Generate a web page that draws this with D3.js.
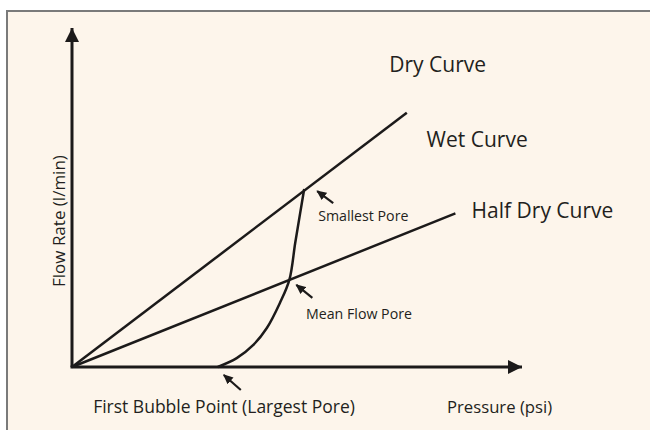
<!DOCTYPE html>
<html><head><meta charset="utf-8">
<script src="https://cdn.jsdelivr.net/npm/d3@7"></script>
<style>html,body{margin:0;padding:0;background:#fff;}svg{display:block;}</style>
</head><body>
<script>
// Data (arbitrary units: pressure 0..10, flow 0..10)
const dryCurve = [[0, 0], [7.44, 7.5]];
const halfDryCurve = [[0, 0], [8.52, 4.53]];
const wetPressure = [3.24, 3.66, 4.03, 4.33, 4.62, 4.83, 4.96, 5.07, 5.16];
const wetFlow =     [0,    0.26, 0.65, 1.15, 1.89, 2.57, 3.66, 4.54, 5.25];
const curveLabels = [
  {text: "Dry Curve", x: 7.05, y: 8.7},
  {text: "Wet Curve", x: 7.88, y: 6.5},
  {text: "Half Dry Curve", x: 8.88, y: 4.4}
];
const pointNotes = [
  {text: "Smallest Pore", px: 5.16, py: 5.25, lx: 5.47, ly: 4.3},
  {text: "Mean Flow Pore", px: 4.83, py: 2.57, lx: 5.2, ly: 1.43},
  {text: "First Bubble Point (Largest Pore)", px: 3.24, py: 0, lx: 0.47, ly: -1.35}
];
// arrow offsets from the pointed data point: head (hx,hy), tail (tx,ty) in px
const noteArrows = [
  {hx: 13, hy: 2, tx: 29, ty: 14},
  {hx: 7, hy: 5, tx: 23, ty: 18},
  {hx: 6, hy: 8, tx: 23, ty: 23}
];
const xAxisTitle = "Pressure (psi)";
const yAxisTitle = "Flow Rate (l/min)";

const W = 650, H = 430;
const svg = d3.select("body").append("svg").attr("width", W).attr("height", H);
const ink = "#1c1a1a", textCol = "#231f20";
const font = "'Open Sans', Lato, sans-serif";

// panel
svg.append("rect").attr("x", 7).attr("y", 11).attr("width", W).attr("height", H)
  .attr("fill", "#fdf5eb").attr("stroke", "#7a7a7a").attr("stroke-width", 2);

const x = d3.scaleLinear().domain([0, 10]).range([72, 522]);
const y = d3.scaleLinear().domain([0, 10]).range([367, 28]);

const defs = svg.append("defs");
defs.append("marker").attr("id", "bigArrow").attr("viewBox", "0 0 10 10")
  .attr("refX", 10).attr("refY", 5).attr("markerWidth", 14).attr("markerHeight", 14)
  .attr("markerUnits", "userSpaceOnUse").attr("orient", "auto")
  .append("path").attr("d", "M0,0 L10,5 L0,10 Z").attr("fill", ink);
defs.append("marker").attr("id", "smallArrow").attr("viewBox", "0 0 10 10")
  .attr("refX", 9).attr("refY", 5).attr("markerWidth", 10).attr("markerHeight", 10)
  .attr("markerUnits", "userSpaceOnUse").attr("orient", "auto")
  .append("path").attr("d", "M0,0.5 L10,5 L0,9.5 Z").attr("fill", ink);

// axes
svg.append("line").attr("x1", x(0)).attr("y1", y(0)).attr("x2", x(0)).attr("y2", y(10))
  .attr("stroke", ink).attr("stroke-width", 3).attr("marker-end", "url(#bigArrow)");
svg.append("line").attr("x1", x(0) - 1.5).attr("y1", y(0)).attr("x2", x(10)).attr("y2", y(0))
  .attr("stroke", ink).attr("stroke-width", 3).attr("marker-end", "url(#bigArrow)");

const line = d3.line().x(d => x(d[0])).y(d => y(d[1]));
svg.append("path").attr("d", line(dryCurve)).attr("fill", "none").attr("stroke", ink).attr("stroke-width", 2.5);
svg.append("path").attr("d", line(halfDryCurve)).attr("fill", "none").attr("stroke", ink).attr("stroke-width", 2.5);
const wet = wetPressure.map((p, i) => [p, wetFlow[i]]);
svg.append("path").attr("d", line.curve(d3.curveCatmullRom.alpha(0.5))(wet)).attr("fill", "none")
  .attr("stroke", ink).attr("stroke-width", 2.5);

// curve labels
svg.selectAll("text.curve").data(curveLabels).enter().append("text")
  .attr("x", d => x(d.x)).attr("y", d => y(d.y))
  .attr("font-family", font).attr("font-size", 21).attr("fill", textCol)
  .text(d => d.text);

// point annotations
pointNotes.forEach((n, i) => {
  const ax = x(n.px), ay = y(n.py), a = noteArrows[i];
  svg.append("line").attr("x1", ax + a.tx).attr("y1", ay + a.ty)
    .attr("x2", ax + a.hx).attr("y2", ay + a.hy)
    .attr("stroke", ink).attr("stroke-width", 2.2).attr("marker-end", "url(#smallArrow)");
});
svg.selectAll("text.note").data(pointNotes).enter().append("text")
  .attr("x", d => x(d.lx)).attr("y", d => y(d.ly))
  .attr("font-family", font).attr("fill", textCol)
  .attr("font-size", (d, i) => i === 2 ? 17.5 : 14.2)
  .text(d => d.text);

// axis titles
svg.append("text").attr("x", 447).attr("y", 413).attr("font-family", font)
  .attr("font-size", 16.7).attr("fill", textCol).text(xAxisTitle);
svg.append("text").attr("transform", "translate(65,287) rotate(-90)").attr("font-family", font)
  .attr("font-size", 17).attr("fill", textCol).text(yAxisTitle);
</script>
</body></html>
